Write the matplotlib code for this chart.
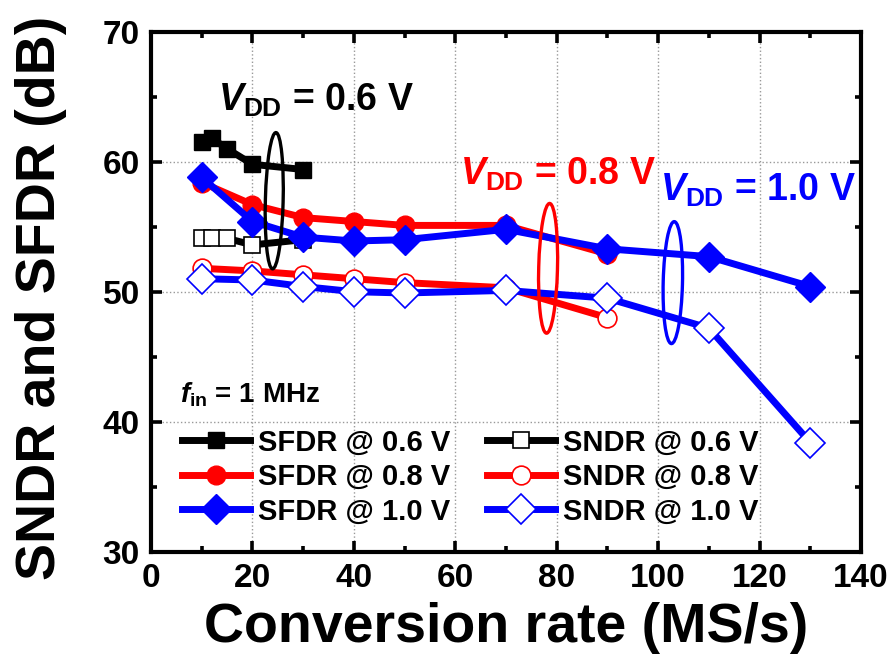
import numpy as np
import matplotlib.pyplot as plt
from matplotlib.patches import Ellipse

plt.rcParams['font.family'] = 'Liberation Sans'
plt.rcParams['font.weight'] = 'bold'
plt.rcParams['mathtext.fontset'] = 'custom'
plt.rcParams['mathtext.rm'] = 'Liberation Sans:bold'
plt.rcParams['mathtext.it'] = 'Liberation Sans:italic:bold'
plt.rcParams['mathtext.bf'] = 'Liberation Sans:bold'

# data
rate_06 = [10, 12, 15, 20, 30]
sfdr_06 = [61.5, 61.8, 61.0, 59.8, 59.4]
sndr_06 = [54.1, 54.1, 54.1, 53.6, 54.0]

rate_08 = [10, 20, 30, 40, 50, 70, 90]
sfdr_08 = [58.4, 56.7, 55.7, 55.4, 55.1, 55.1, 52.9]
sndr_08 = [51.8, 51.6, 51.3, 51.0, 50.7, 50.3, 48.0]

rate_10 = [10, 20, 30, 40, 50, 70, 90, 110, 130]
sfdr_10 = [58.8, 55.4, 54.2, 53.9, 54.0, 54.8, 53.3, 52.7, 50.4]
sndr_10 = [51.0, 50.9, 50.4, 50.0, 49.9, 50.1, 49.5, 47.2, 38.4]

fig = plt.figure(figsize=(8.91, 6.62), dpi=100)
ax = fig.add_axes([0.1695, 0.1666, 0.7968, 0.7855])

lw = 5
h1, = ax.plot(rate_06, sfdr_06, color='black', lw=lw, marker='s', ms=12,
              label='SFDR @ 0.6 V', zorder=3)
h2, = ax.plot(rate_06, sndr_06, color='black', lw=lw, marker='s', ms=12,
              mfc='white', mec='black', mew=1.2, label='SNDR @ 0.6 V', zorder=3)
h3, = ax.plot(rate_08, sfdr_08, color='red', lw=lw, marker='o', ms=13.5,
              label='SFDR @ 0.8 V', zorder=3)
h4, = ax.plot(rate_08, sndr_08, color='red', lw=lw, marker='o', ms=13.5,
              mfc='white', mec='red', mew=1.2, label='SNDR @ 0.8 V', zorder=3)
h5, = ax.plot(rate_10, sfdr_10, color='blue', lw=lw, marker='D', ms=15,
              label='SFDR @ 1.0 V', zorder=4)
h6, = ax.plot(rate_10, sndr_10, color='blue', lw=lw, marker='D', ms=15,
              mfc='white', mec='blue', mew=1.2, label='SNDR @ 1.0 V', zorder=4)

ax.set_xlim(0, 140)
ax.set_ylim(30, 70)
ax.set_xticks(np.arange(0, 141, 20))
ax.set_xticks(np.arange(0, 141, 10), minor=True)
ax.set_yticks(np.arange(30, 71, 10))
ax.set_yticks(np.arange(30, 71, 5), minor=True)
ax.grid(True, which='major', color='#999999', linestyle=':', linewidth=1)
ax.tick_params(which='both', direction='in', top=True, right=True, width=2.6)
ax.tick_params(which='major', length=8, labelsize=24, pad=8)
ax.tick_params(which='minor', length=4)
for sp in ax.spines.values():
    sp.set_linewidth(3)
for t in ax.get_xticklabels() + ax.get_yticklabels():
    t.set_fontweight('bold')

ax.set_xlabel('Conversion rate (MS/s)', fontsize=40, fontweight='bold', labelpad=6)
ax.set_ylabel('SNDR and SFDR (dB)', fontsize=40, fontweight='bold')
ax.yaxis.set_label_coords(-0.118, 0.488)

# column-major order so rows read SFDR / SNDR per supply
ax.legend([h1, h3, h5, h2, h4, h6],
          [h.get_label() for h in [h1, h3, h5, h2, h4, h6]],
          ncol=2, loc='lower left', bbox_to_anchor=(0.006, 0.0), frameon=False,
          fontsize=21, handlelength=2.35, handletextpad=0.27, columnspacing=1.25,
          labelspacing=0.22, borderaxespad=0.5)

ax.text(13.2, 64.7, r'$V_{\mathrm{DD}}$ = 0.6 V', fontsize=27, fontweight='bold',
        color='black', va='center')
ax.text(60.9, 59.0, r'$V_{\mathrm{DD}}$ = 0.8 V', fontsize=27, fontweight='bold',
        color='red', va='center')
ax.text(100.4, 57.8, r'$V_{\mathrm{DD}}$ = 1.0 V', fontsize=27, fontweight='bold',
        color='blue', va='center')
ax.text(5.7, 42.1, r'$f_{\mathrm{in}}$ = 1 MHz', fontsize=20, fontweight='bold',
        color='black', va='center')

ax.add_patch(Ellipse((24.3, 57.0), 3.5, 10.5, angle=-4, fill=False,
                     edgecolor='black', lw=2.4, zorder=5))
ax.add_patch(Ellipse((78.3, 51.8), 3.7, 10.0, angle=-4, fill=False,
                     edgecolor='red', lw=2.4, zorder=5))
ax.add_patch(Ellipse((102.9, 50.7), 3.8, 9.4, angle=-4, fill=False,
                     edgecolor='blue', lw=2.4, zorder=5))

fig.savefig('out.png', dpi=100)
